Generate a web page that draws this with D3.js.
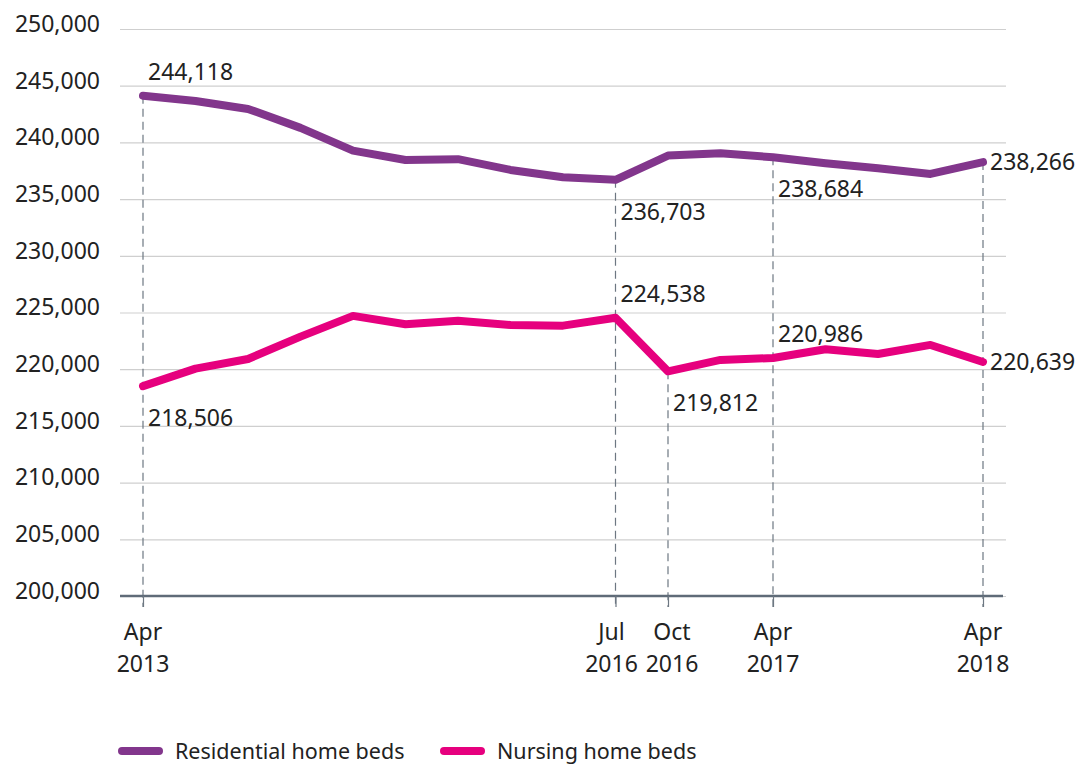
<!DOCTYPE html>
<html>
<head>
<meta charset="utf-8">
<script src="https://cdn.jsdelivr.net/npm/d3@7"></script>
<style>
  body { margin: 0; background: #fff; }
  text { font-family: 'Noto Sans', sans-serif; fill: #222; }
</style>
</head>
<body>
<div id="graf"></div>
<script>
// Datos (17 periodos)
periodos = ['Apr 2013', 'p1', 'p2', 'p3', 'p4', 'p5', 'p6', 'p7', 'p8',
            'Jul 2016', 'Oct 2016', 'Jan 2017', 'Apr 2017', 'Jul 2017', 'Oct 2017', 'Jan 2018', 'Apr 2018']
etiquetasX = ['Apr|2013', '', '', '', '', '', '', '', '',
              'Jul|2016', 'Oct|2016', '', 'Apr|2017', '', '', '', 'Apr|2018']
residencial = [244118, 243650, 242950, 241280, 239280, 238450, 238520, 237570, 236930,
               236703, 238840, 239050, 238684, 238160, 237720, 237220, 238266]
enfermeria = [218506, 220050, 220900, 222870, 224700, 223960, 224280, 223900, 223840,
              224538, 219812, 220820, 220986, 221760, 221340, 222140, 220639]
yTicks = [200000, 205000, 210000, 215000, 220000, 225000, 230000, 235000, 240000, 245000, 250000]

// etiquetas de valor: indice, serie, posicion
etiquetas = [
  { i: 0, s: 'res', pos: 'arriba' },
  { i: 9, s: 'res', pos: 'abajo' },
  { i: 12, s: 'res', pos: 'abajo' },
  { i: 16, s: 'res', pos: 'derecha' },
  { i: 0, s: 'enf', pos: 'abajo' },
  { i: 9, s: 'enf', pos: 'arriba' },
  { i: 10, s: 'enf', pos: 'abajo' },
  { i: 12, s: 'enf', pos: 'arriba' },
  { i: 16, s: 'enf', pos: 'derecha' }
]
// lineas punteadas: desde que serie bajan
guias = [
  { i: 0, s: 'res' }, { i: 9, s: 'res' }, { i: 10, s: 'enf' },
  { i: 12, s: 'res' }, { i: 16, s: 'res' }
]
// pequeño desplazamiento para que Jul/Oct 2016 no se peguen
despX = { 9: -4, 10: 4 }

colores = { res: '#82368c', enf: '#e6007e' }
series = { res: residencial, enf: enfermeria }

ancho_total = 1086
alto_total = 768
margins = { top: 29, left: 120, right: 80, bottom: 172 }
ancho = ancho_total - margins.left - margins.right
alto = alto_total - margins.top - margins.bottom

svg = d3.select('#graf').append('svg')
  .attr('width', ancho_total)
  .attr('height', alto_total)

g = svg.append('g')
  .attr('transform', `translate(${margins.left}, ${margins.top})`)

x = d3.scalePoint().domain(d3.range(periodos.length)).range([23, 863])
y = d3.scaleLinear().domain([200000, 250000]).range([alto, 0])

// rejilla y eje Y
yAxis = d3.axisLeft(y)
  .tickValues(yTicks)
  .tickSize(-ancho)
  .tickFormat(d3.format(','))

ejeY = g.append('g').call(yAxis)
ejeY.select('.domain').remove()
ejeY.selectAll('.tick line').attr('stroke', '#cfcfcf').attr('stroke-width', 1.2)
ejeY.selectAll('.tick text')
  .attr('x', -20)
  .attr('dy', '0.1em')
  .attr('font-size', '23px')
  .attr('fill', '#222')

// lineas guia punteadas
g.selectAll('.guia')
  .data(guias)
  .enter().append('line')
  .attr('class', 'guia')
  .attr('x1', d => x(d.i))
  .attr('x2', d => x(d.i))
  .attr('y1', d => y(series[d.s][d.i]))
  .attr('y2', alto + 11)
  .attr('stroke', '#6d7782')
  .attr('stroke-width', 1.2)
  .attr('stroke-dasharray', '8,5')

// eje X
g.append('line')
  .attr('x1', 0).attr('x2', 883)
  .attr('y1', alto).attr('y2', alto)
  .attr('stroke', '#5f6b78')
  .attr('stroke-width', 2.5)

xAxis = d3.axisBottom(x)
  .tickValues(guias.map(d => d.i))
  .tickSize(11)
  .tickFormat('')
ejeX = g.append('g')
  .attr('transform', `translate(0, ${alto})`)
  .call(xAxis)
ejeX.select('.domain').remove()
ejeX.selectAll('.tick line').attr('stroke', '#6d7782').attr('stroke-width', 1.2)

etX = g.selectAll('.etx')
  .data(guias.map(d => d.i))
  .enter().append('text')
  .attr('class', 'etx')
  .attr('text-anchor', 'middle')
  .attr('font-size', '23px')
  .attr('transform', d => `translate(${x(d) + (despX[d] || 0)}, ${alto + 44})`)
etX.append('tspan').attr('x', 0).attr('y', 0).text(d => etiquetasX[d].split('|')[0])
etX.append('tspan').attr('x', 0).attr('y', 32).text(d => etiquetasX[d].split('|')[1])

// lineas
linea = d3.line().x((d, i) => x(i)).y(d => y(d))

Object.keys(series).forEach(k => {
  g.append('path')
    .datum(series[k])
    .attr('fill', 'none')
    .attr('stroke', colores[k])
    .attr('stroke-width', 8)
    .attr('stroke-linejoin', 'round')
    .attr('stroke-linecap', 'round')
    .attr('d', linea)
})

// etiquetas de valor
g.selectAll('.valor')
  .data(etiquetas)
  .enter().append('text')
  .attr('class', 'valor')
  .attr('font-size', '23px')
  .attr('x', d => x(d.i) + (d.pos == 'derecha' ? 7 : 5))
  .attr('y', d => {
    v = y(series[d.s][d.i])
    if (d.pos == 'arriba') return v - 16
    if (d.pos == 'abajo') return v + 40
    return v + 8
  })
  .text(d => d3.format(',')(series[d.s][d.i]))

// leyenda
leyenda = svg.append('g').attr('transform', 'translate(118, 751)')
items = [{ k: 'res', t: 'Residential home beds', x: 0 }, { k: 'enf', t: 'Nursing home beds', x: 322 }]
items.forEach(it => {
  leyenda.append('line')
    .attr('x1', it.x + 4).attr('x2', it.x + 41)
    .attr('y1', 0).attr('y2', 0)
    .attr('stroke', colores[it.k])
    .attr('stroke-width', 8)
    .attr('stroke-linecap', 'round')
  leyenda.append('text')
    .attr('x', it.x + 57)
    .attr('y', 8)
    .attr('font-size', '21.5px')
    .text(it.t)
})
</script>
</body>
</html>
